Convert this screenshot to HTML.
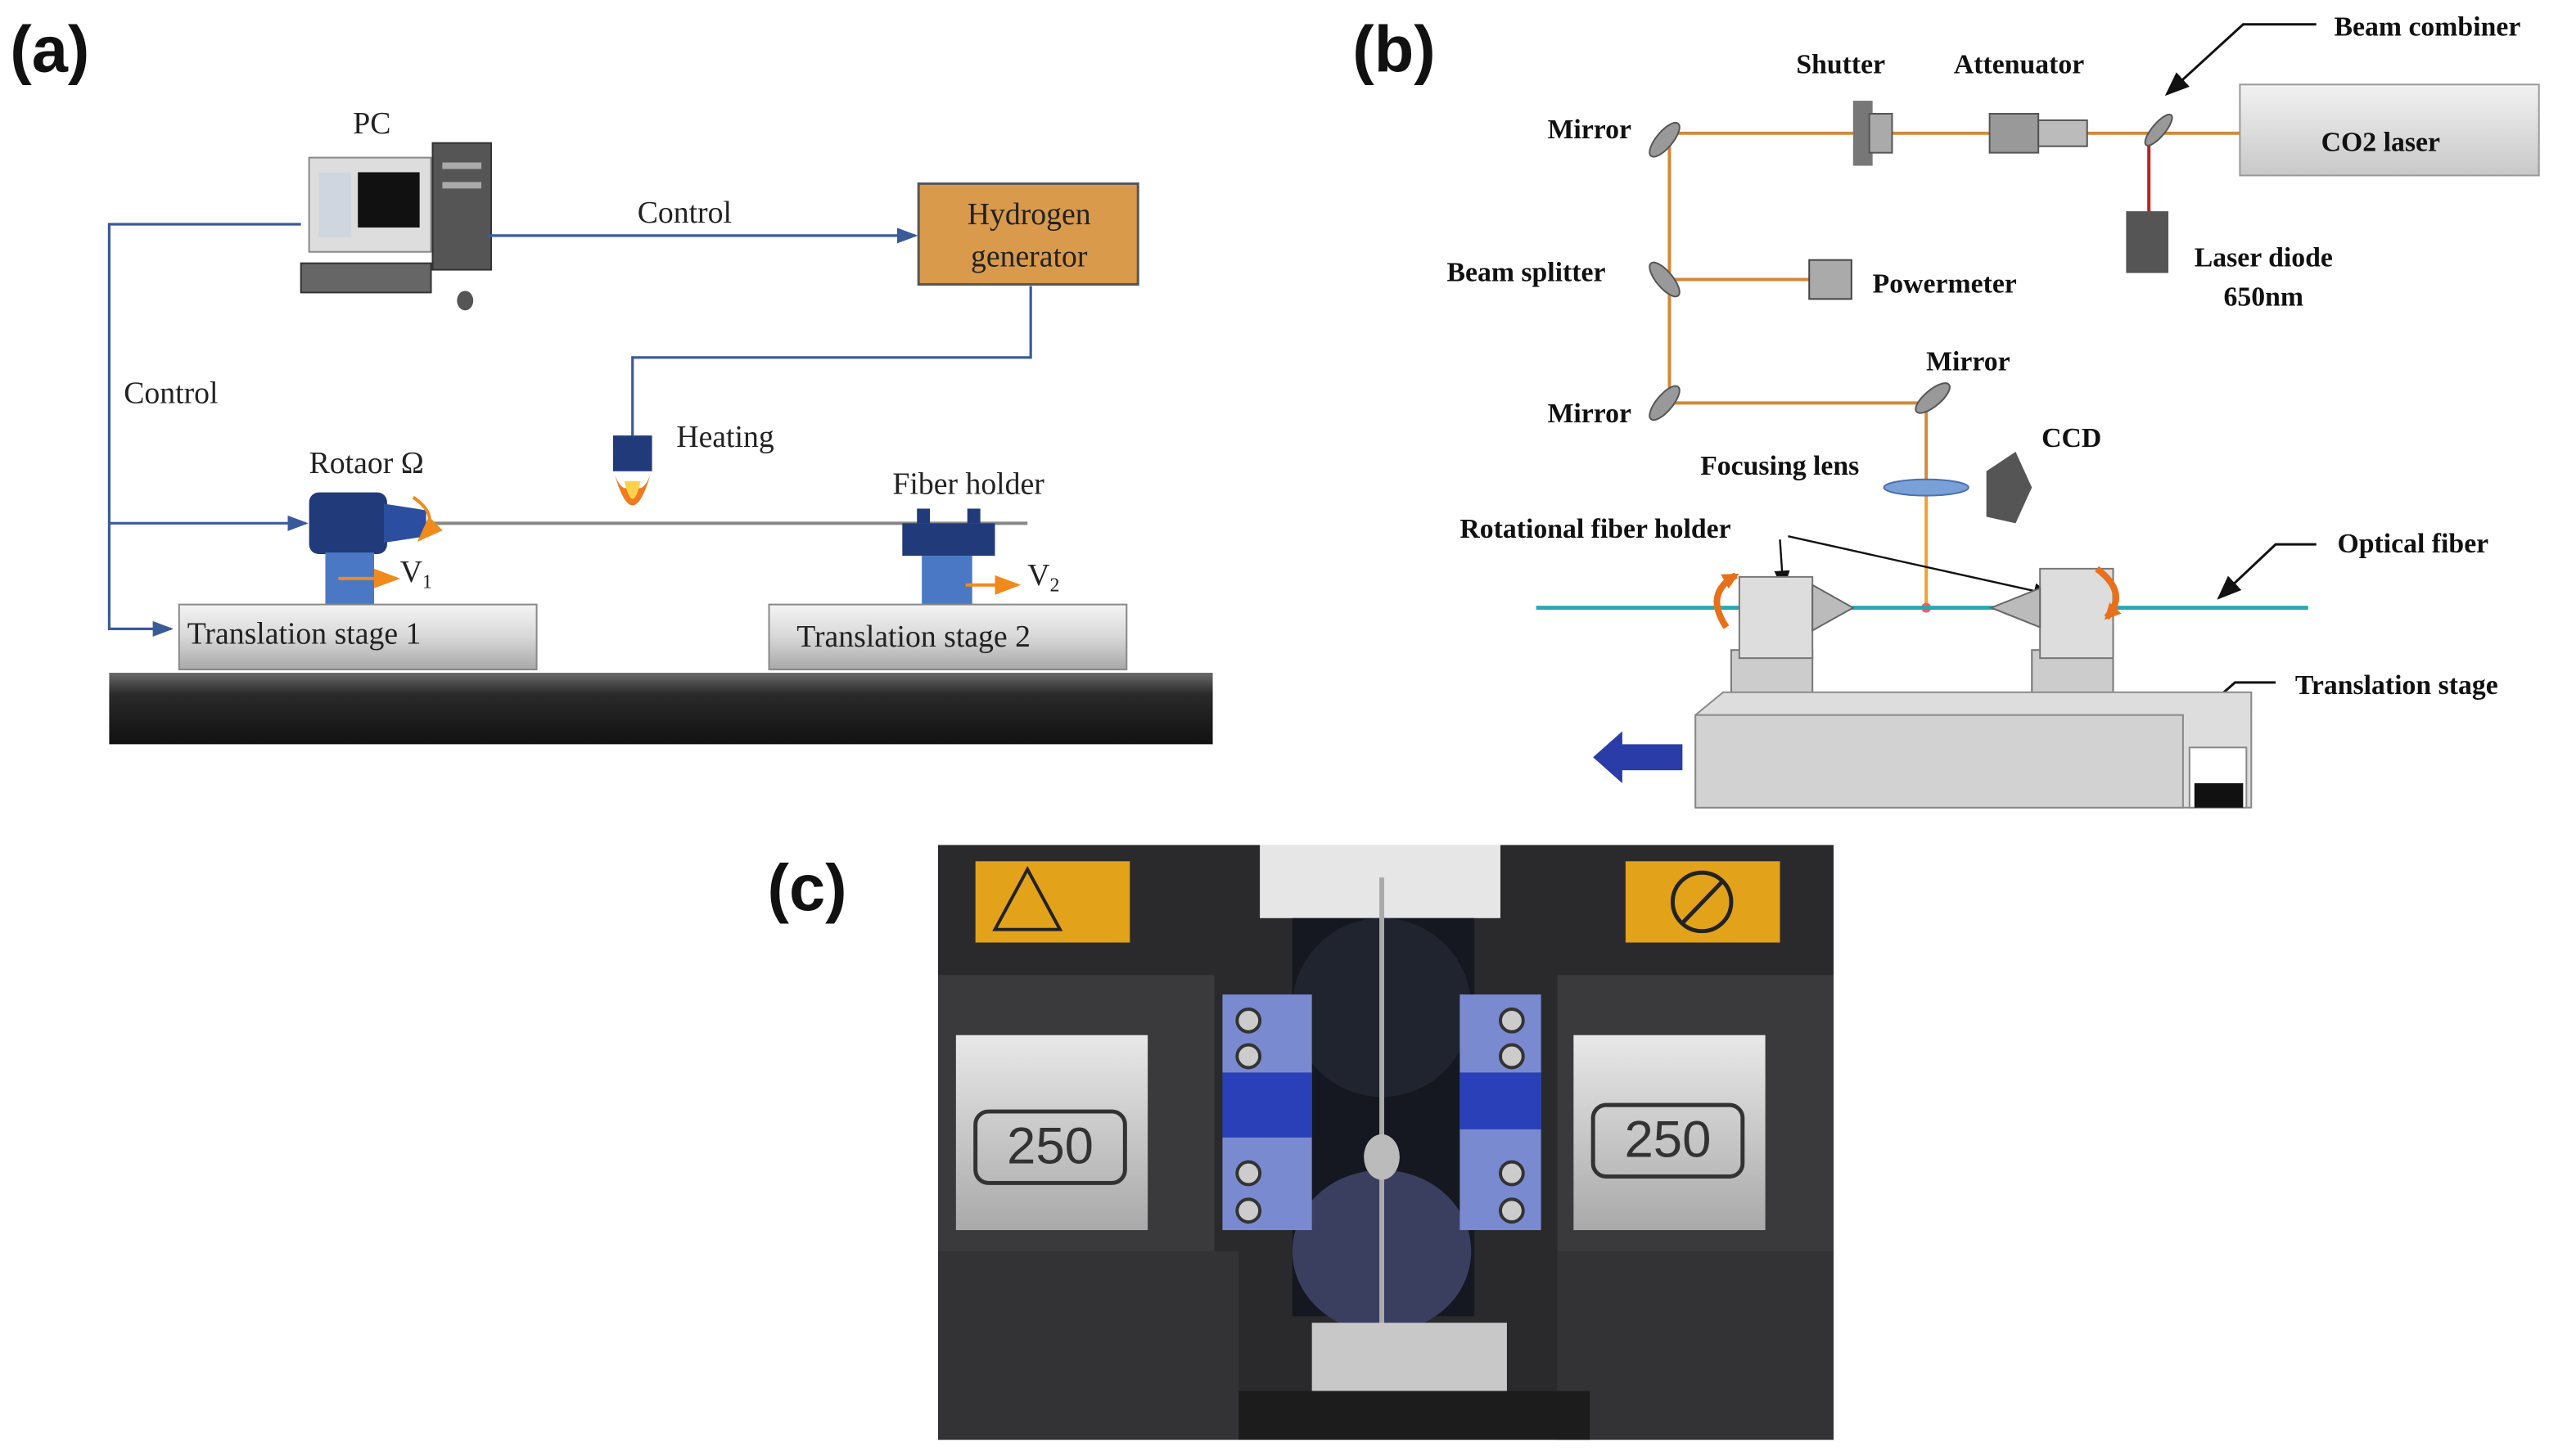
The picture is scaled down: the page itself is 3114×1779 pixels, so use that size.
<!DOCTYPE html>
<html><head><meta charset="utf-8"><style>
html,body{margin:0;padding:0;background:#fff;}
svg{display:block;}
.t{font-family:"Liberation Serif",serif;fill:#222;}
.b{font-family:"Liberation Serif",serif;font-weight:bold;fill:#111;}
.lab{font-family:"Liberation Sans",sans-serif;font-weight:bold;fill:#111;}
</style></head><body>
<svg width="3114" height="1779" viewBox="0 0 1568 896" xmlns="http://www.w3.org/2000/svg">
<defs>
<linearGradient id="stg" x1="0" y1="0" x2="0" y2="1"><stop offset="0" stop-color="#f4f4f4"/><stop offset="0.5" stop-color="#d8d8d8"/><stop offset="1" stop-color="#a8a8a8"/></linearGradient>
<linearGradient id="base" x1="0" y1="0" x2="0" y2="1"><stop offset="0" stop-color="#6a6a6a"/><stop offset="0.3" stop-color="#2a2a2a"/><stop offset="1" stop-color="#111"/></linearGradient>
<linearGradient id="laser" x1="0" y1="0" x2="0" y2="1"><stop offset="0" stop-color="#f2f2f2"/><stop offset="1" stop-color="#c8c8c8"/></linearGradient>
<linearGradient id="plate" x1="0" y1="0" x2="0" y2="1"><stop offset="0" stop-color="#e8e8e8"/><stop offset="1" stop-color="#a9a9a9"/></linearGradient>
<marker id="ar" markerWidth="8" markerHeight="8" refX="7" refY="4" orient="auto"><path d="M0,1 L8,4 L0,7 z" fill="#3a5a9a"/></marker>
<marker id="ak" markerWidth="10" markerHeight="10" refX="9" refY="5" orient="auto"><path d="M0,1 L10,5 L0,9 z" fill="#111"/></marker>
<marker id="ao" markerWidth="8" markerHeight="8" refX="7" refY="4" orient="auto"><path d="M0,1 L8,4 L0,7 z" fill="#f08a1c"/></marker>
<marker id="ao2" markerUnits="userSpaceOnUse" markerWidth="10" markerHeight="10" refX="8" refY="5" orient="auto"><path d="M0,0 L10,5 L0,10 z" fill="#e8701a"/></marker>
</defs>

<!-- ========== (a) ========== -->
<text x="6" y="44" class="lab" font-size="40">(a)</text>
<text x="217" y="82" class="t" font-size="19">PC</text>
<rect x="190" y="97" width="75" height="58" fill="#ddd" stroke="#888"/>
<rect x="220" y="106" width="38" height="34" fill="#111"/>
<rect x="196" y="106" width="20" height="40" fill="#cfd6e0"/>
<rect x="266" y="88" width="36" height="78" fill="#555" stroke="#333"/>
<rect x="272" y="100" width="24" height="4" fill="#aaa"/><rect x="272" y="112" width="24" height="4" fill="#aaa"/>
<rect x="185" y="162" width="80" height="18" fill="#666" stroke="#333"/>
<ellipse cx="286" cy="185" rx="5" ry="6" fill="#555"/>
<g stroke="#3a5a9a" stroke-width="1.6" fill="none">
<path d="M300,145 L563,145" marker-end="url(#ar)"/>
<path d="M185,138 L67,138 L67,387 L105,387" marker-end="url(#ar)"/>
<path d="M67,322 L188,322" marker-end="url(#ar)"/>
<path d="M634,176 L634,220 L389,220 L389,268"/>
</g>
<text x="392" y="137" class="t" font-size="19">Control</text>
<text x="76" y="248" class="t" font-size="19">Control</text>
<rect x="565" y="113" width="135" height="62" fill="#d99a4c" stroke="#555" stroke-width="1.5"/>
<text x="633" y="138" class="t" font-size="19" text-anchor="middle">Hydrogen</text>
<text x="633" y="164" class="t" font-size="19" text-anchor="middle">generator</text>
<rect x="377" y="268" width="24" height="22" fill="#213a7a"/>
<path d="M378,292 Q389,330 400,292 Q395,305 389,298 Q383,305 378,292z" fill="#f07a20"/>
<path d="M384,296 Q389,318 394,296z" fill="#ffd24a"/>
<text x="416" y="275" class="t" font-size="19">Heating</text>
<line x1="258" y1="322" x2="632" y2="322" stroke="#888" stroke-width="2"/>
<text x="190" y="291" class="t" font-size="19">Rotaor Ω</text>
<rect x="190" y="303" width="48" height="38" rx="6" fill="#213a7a"/>
<path d="M236,310 L262,314 L262,330 L236,334z" fill="#2c4ea0"/>
<rect x="200" y="340" width="30" height="33" fill="#4a78c4"/>
<path d="M254,306 Q272,318 258,332" stroke="#f08a1c" stroke-width="2" fill="none" marker-end="url(#ao)"/>
<path d="M208,356 L244,356" stroke="#f08a1c" stroke-width="2" marker-end="url(#ao)"/>
<text x="246" y="358" class="t" font-size="19">V<tspan font-size="12" dy="4">1</tspan></text>
<text x="549" y="304" class="t" font-size="19">Fiber holder</text>
<rect x="555" y="322" width="57" height="20" fill="#213a7a"/>
<rect x="564" y="313" width="8" height="9" fill="#213a7a"/><rect x="595" y="313" width="8" height="9" fill="#213a7a"/>
<rect x="567" y="342" width="31" height="31" fill="#4a78c4"/>
<path d="M594,360 L626,360" stroke="#f08a1c" stroke-width="2" marker-end="url(#ao)"/>
<text x="632" y="360" class="t" font-size="19">V<tspan font-size="12" dy="4">2</tspan></text>
<rect x="110" y="372" width="220" height="40" fill="url(#stg)" stroke="#888"/>
<text x="115" y="396" class="t" font-size="19">Translation stage 1</text>
<rect x="473" y="372" width="220" height="40" fill="url(#stg)" stroke="#888"/>
<text x="490" y="398" class="t" font-size="19">Translation stage 2</text>
<rect x="67" y="414" width="679" height="44" fill="url(#base)"/>

<!-- ========== (b) ========== -->
<text x="832" y="44" class="lab" font-size="40">(b)</text>
<g stroke="#d08a3a" stroke-width="2" fill="none">
<path d="M1027,82 L1380,82"/>
<path d="M1027,82 L1027,248 L1185,248 L1185,300"/>
<path d="M1027,172 L1115,172"/>
</g>
<line x1="1185" y1="300" x2="1185" y2="372" stroke="#f0a030" stroke-width="2"/>
<circle cx="1185" cy="374" r="3" fill="#ff5a5a"/>
<line x1="1322" y1="82" x2="1322" y2="135" stroke="#c02020" stroke-width="2"/>
<g fill="#999" stroke="#555">
<ellipse cx="1024" cy="86" rx="5" ry="13" transform="rotate(40 1024 86)"/>
<ellipse cx="1024" cy="172" rx="5" ry="13" transform="rotate(-40 1024 172)"/>
<ellipse cx="1024" cy="248" rx="5" ry="13" transform="rotate(40 1024 248)"/>
<ellipse cx="1189" cy="245" rx="5" ry="13" transform="rotate(50 1189 245)"/>
<ellipse cx="1328" cy="80" rx="4" ry="12" transform="rotate(40 1328 80)"/>
</g>
<rect x="1140" y="62" width="12" height="40" fill="#777"/><rect x="1150" y="70" width="14" height="24" fill="#aaa" stroke="#555"/>
<rect x="1224" y="70" width="30" height="24" fill="#999" stroke="#555"/><rect x="1254" y="74" width="30" height="16" fill="#bbb" stroke="#555"/>
<rect x="1113" y="160" width="26" height="24" fill="#aaa" stroke="#444"/>
<rect x="1378" y="52" width="184" height="56" fill="url(#laser)" stroke="#999"/>
<rect x="1308" y="130" width="26" height="38" fill="#555"/>
<ellipse cx="1185" cy="300" rx="26" ry="5" fill="#7aa0d8" stroke="#4a70b0"/>
<path d="M1222,290 L1240,278 L1250,300 L1240,322 L1222,318z" fill="#555"/>
<text x="1105" y="45" class="b" font-size="17">Shutter</text>
<text x="1202" y="45" class="b" font-size="17">Attenuator</text>
<text x="1436" y="22" class="b" font-size="17">Beam combiner</text>
<path d="M1425,15 L1380,15 L1333,58" stroke="#111" stroke-width="1.5" fill="none" marker-end="url(#ak)"/>
<text x="1428" y="93" class="b" font-size="17">CO2 laser</text>
<text x="952" y="85" class="b" font-size="17">Mirror</text>
<text x="890" y="173" class="b" font-size="17">Beam splitter</text>
<text x="1152" y="180" class="b" font-size="17">Powermeter</text>
<text x="1350" y="164" class="b" font-size="17">Laser diode</text>
<text x="1368" y="188" class="b" font-size="17">650nm</text>
<text x="1185" y="228" class="b" font-size="17">Mirror</text>
<text x="952" y="260" class="b" font-size="17">Mirror</text>
<text x="1256" y="275" class="b" font-size="17">CCD</text>
<text x="1046" y="292" class="b" font-size="17">Focusing lens</text>
<text x="898" y="331" class="b" font-size="17">Rotational fiber holder</text>
<path d="M1095,332 L1097,362" stroke="#111" stroke-width="1.2" marker-end="url(#ak)"/>
<path d="M1100,330 L1262,366" stroke="#111" stroke-width="1.2" marker-end="url(#ak)"/>
<text x="1438" y="340" class="b" font-size="17">Optical fiber</text>
<path d="M1425,335 L1400,335 L1365,368" stroke="#111" stroke-width="1.5" fill="none" marker-end="url(#ak)"/>
<text x="1412" y="427" class="b" font-size="17">Translation stage</text>
<path d="M1400,420 L1375,420 L1318,470" stroke="#111" stroke-width="1.5" fill="none" marker-end="url(#ak)"/>
<line x1="945" y1="374" x2="1420" y2="374" stroke="#2aa8b0" stroke-width="2.5"/>
<rect x="1065" y="400" width="50" height="40" fill="#ccc" stroke="#777"/>
<rect x="1250" y="400" width="50" height="40" fill="#ccc" stroke="#777"/>
<path d="M1070,355 L1115,355 L1115,405 L1070,405z" fill="#ddd" stroke="#777"/>
<path d="M1115,360 L1140,374 L1115,388z" fill="#bbb" stroke="#666"/>
<path d="M1255,350 L1300,350 L1300,405 L1255,405z" fill="#ddd" stroke="#777"/>
<path d="M1255,362 L1225,374 L1255,386z" fill="#bbb" stroke="#666"/>
<path d="M1062,386 Q1048,365 1068,354" stroke="#e8701a" stroke-width="4" fill="none" marker-end="url(#ao2)"/>
<path d="M1290,350 Q1310,365 1296,380" stroke="#e8701a" stroke-width="4" fill="none" marker-end="url(#ao2)"/>
<path d="M1043,440 L1060,426 L1385,426 L1385,497 L1043,497z" fill="#ddd" stroke="#888"/>
<rect x="1043" y="440" width="300" height="57" fill="#d2d2d2" stroke="#888"/>
<rect x="1347" y="460" width="35" height="37" fill="#fff" stroke="#888"/><rect x="1350" y="482" width="30" height="15" fill="#111"/>
<path d="M1035,458 L998,458 L998,450 L980,466 L998,482 L998,474 L1035,474z" fill="#2a3ca8"/>

<!-- ========== (c) ========== -->
<text x="472" y="560" class="lab" font-size="40">(c)</text>
<rect x="577" y="520" width="551" height="366" fill="#2a2a2c"/>
<rect x="577" y="600" width="170" height="170" fill="#3a3a3c"/>
<rect x="958" y="600" width="170" height="170" fill="#3a3a3c"/>
<rect x="577" y="770" width="185" height="116" fill="#333234"/>
<rect x="958" y="770" width="170" height="116" fill="#333234"/>
<rect x="600" y="530" width="95" height="50" fill="#e2a21a"/>
<rect x="1000" y="530" width="95" height="50" fill="#e2a21a"/>
<path d="M612,572 L632,535 L652,572z" fill="none" stroke="#222" stroke-width="2"/>
<circle cx="1047" cy="555" r="18" fill="none" stroke="#222" stroke-width="2.5"/>
<line x1="1035" y1="568" x2="1060" y2="542" stroke="#222" stroke-width="2.5"/>
<rect x="775" y="520" width="148" height="45" fill="#e6e6e6"/>
<rect x="795" y="565" width="112" height="245" fill="#151820"/>
<ellipse cx="850" cy="620" rx="55" ry="55" fill="#20242e"/>
<ellipse cx="850" cy="770" rx="55" ry="50" fill="#3a3f60"/>
<rect x="752" y="612" width="55" height="145" fill="#7a8ad0"/>
<rect x="752" y="660" width="55" height="40" fill="#2a40b8"/>
<rect x="898" y="612" width="50" height="145" fill="#7a8ad0"/>
<rect x="898" y="660" width="50" height="35" fill="#2a40b8"/>
<g fill="#ccc" stroke="#333" stroke-width="2">
<circle cx="768" cy="628" r="7"/><circle cx="768" cy="650" r="7"/><circle cx="768" cy="722" r="7"/><circle cx="768" cy="745" r="7"/>
<circle cx="930" cy="628" r="7"/><circle cx="930" cy="650" r="7"/><circle cx="930" cy="722" r="7"/><circle cx="930" cy="745" r="7"/>
</g>
<rect x="588" y="637" width="118" height="120" fill="url(#plate)"/>
<rect x="600" y="684" width="92" height="44" rx="8" fill="none" stroke="#333" stroke-width="2.5"/>
<text x="646" y="716" font-family="Liberation Sans,sans-serif" font-size="32" fill="#333" text-anchor="middle">250</text>
<rect x="968" y="637" width="118" height="120" fill="url(#plate)"/>
<rect x="980" y="680" width="92" height="44" rx="8" fill="none" stroke="#333" stroke-width="2.5"/>
<text x="1026" y="712" font-family="Liberation Sans,sans-serif" font-size="32" fill="#333" text-anchor="middle">250</text>
<line x1="850" y1="540" x2="850" y2="820" stroke="#aaa" stroke-width="3"/>
<ellipse cx="850" cy="712" rx="11" ry="14" fill="#bbb"/>
<rect x="807" y="814" width="120" height="42" fill="#c8c8c8"/>
<rect x="762" y="856" width="216" height="30" fill="#1c1c1c"/>
</svg>
</body></html>
